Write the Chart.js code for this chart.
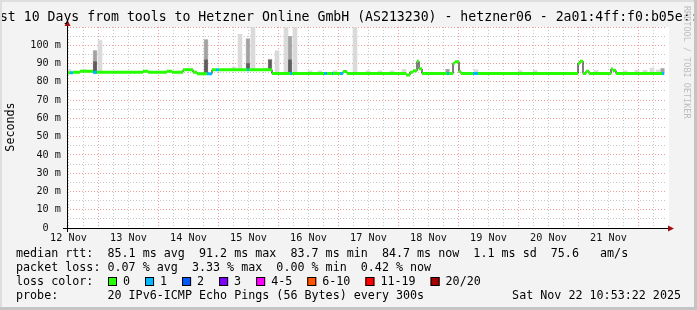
<!DOCTYPE html>
<html>
<head>
<meta charset="utf-8">
<script src="https://cdn.jsdelivr.net/npm/chart.js@4.4.1/dist/chart.umd.min.js"></script>
<style>
  html, body { margin: 0; padding: 0; background: #f3f3f3; }
  canvas { display: block; }
</style>
</head>
<body>
<canvas id="smoke" width="697" height="310"></canvas>
<script>
// time axis: hours counted from 12 Nov 00:00
const xMin = 11.4;
const xMax = 251.4;
const dataEnd = 250.2;

const dayLabels = ['12 Nov', '13 Nov', '14 Nov', '15 Nov', '16 Nov', '17 Nov', '18 Nov', '19 Nov', '20 Nov', '21 Nov'];
const yLabels = ['0  ', '10 m', '20 m', '30 m', '40 m', '50 m', '60 m', '70 m', '80 m', '90 m', '100 m'];

// median rtt (ms) as runs: start hour, value, lost pings out of 20
const runStart = [11.4, 12.6, 13.8, 16.6, 21.8, 23.4, 41.8, 43.8, 51.4, 53.4,
    57.8, 61.8, 63.4, 67.4, 69.4, 71.0, 72.2, 83.4, 84.2, 93.4,
    100.6, 101.4, 114.2, 115.4, 117.4, 117.8, 120.6, 121.8, 123.4, 147.0,
    148.6, 149.8, 151.4, 152.2, 153.4, 163.4, 164.2, 165.8, 166.6, 168.2,
    169.0, 173.8, 175.8, 215.8, 216.6, 217.8, 219.0, 220.2, 229.0, 229.8,
    231.0, 249.4];
const runMedian = [85.0, 85.0, 85.2, 85.8, 85.2, 85.2, 85.8, 85.2, 85.8, 85.2,
    86.6, 85.2, 84.4, 84.4, 86.6, 86.6, 86.6, 86.6, 86.6, 84.5,
    84.5, 84.5, 84.5, 84.5, 84.5, 84.5, 84.5, 85.6, 84.5, 83.7,
    85.3, 86.0, 91.2, 87.1, 84.5, 84.5, 84.5, 90.2, 91.0, 85.6,
    84.5, 84.5, 84.5, 90.2, 91.3, 84.5, 85.8, 84.5, 87.0, 86.2,
    84.5, 84.5];
const runLoss = [0, 1, 0, 0, 1, 0, 0, 0, 0, 0,
    0, 0, 0, 1, 0, 1, 0, 1, 0, 0,
    1, 0, 1, 0, 1, 0, 1, 0, 0, 0,
    0, 0, 0, 0, 0, 1, 0, 0, 0, 0,
    0, 1, 0, 0, 0, 0, 0, 0, 0, 0,
    0, 1];

// smoke (spread of the 20 pings): hour, top of light / mid / dark band in ms
const smokeHours = [12.2, 18.6, 22.6, 24.6, 67.0, 78.2, 80.6, 83.8, 85.8, 90.6,
    92.6, 95.4, 99.0, 100.6, 102.6, 108.6, 112.6, 118.6, 126.6, 131.8,
    136.6, 141.4, 146.2, 163.6, 175.0, 192.6, 198.6, 223.0, 234.6, 239.4,
    242.6, 245.4, 247.8, 249.6];
const smokeOuter = [86.8, 86.6, 97, 102.6, 103, 88, 106, 103.5, 110, 87.5,
    92.5, 97, 110, 104.8, 110, 86, 86, 86, 110, 86,
    86, 86, 86.8, 86.8, 86.6, 86.2, 86.2, 86.2, 86, 86.3,
    86.3, 87.5, 86.5, 87.2];
const smokeInner = [null, null, 97, null, 103, null, null, 103.5, null, null,
    null, null, null, 104.8, null, null, null, null, null, null,
    null, null, null, 86.8, null, null, null, null, null, null,
    null, null, null, 87.2];
const smokeCore = [null, null, 91, null, 92, null, null, 90, null, null,
    92, null, null, 92, null, null, null, null, null, null,
    null, null, null, null, null, null, null, null, null, null,
    null, null, null, null];

const lossLabels = ['0', '1', '2', '3', '4-5', '6-10', '11-19', '20/20'];
const lossColors = ['#26ff00', '#00b8ff', '#0059ff', '#7e00ff', '#ff00ff', '#ff5500', '#ff0000', '#a00000'];

const titleText = 'Last 10 Days from tools to Hetzner Online GmbH (AS213230) - hetzner06 - 2a01:4ff:f0:b05e::2';
const rttLine = 'median rtt:  85.1 ms avg  91.2 ms max  83.7 ms min  84.7 ms now  1.1 ms sd  75.6   am/s';
const lossLine = 'packet loss: 0.07 % avg  3.33 % max  0.00 % min  0.42 % now';
const probeLine = 'probe:       20 IPv6-ICMP Echo Pings (56 Bytes) every 300s';
const stampText = 'Sat Nov 22 10:53:22 2025';

const mono = '"DejaVu Sans Mono", monospace';

function medianAt(h) {
    let v = runMedian[0];
    for (let i = 0; i < runStart.length; i++) {
        if (runStart[i] <= h) v = runMedian[i];
    }
    return v;
}

// black step line through all medians
const stepData = runStart.map((h, i) => ({ x: h, y: runMedian[i] }));
stepData.push({ x: dataEnd, y: runMedian[runMedian.length - 1] });

// thick coloured pieces, one per run, split by loss
function pieces(loss) {
    const out = [];
    runStart.forEach((h, i) => {
        if (runLoss[i] !== loss) return;
        const end = i + 1 < runStart.length ? runStart[i + 1] : dataEnd;
        out.push({ x: h, y: runMedian[i] }, { x: end, y: runMedian[i] }, { x: end, y: null });
    });
    return out;
}

function band(tops) {
    const out = [];
    smokeHours.forEach((h, i) => {
        if (tops[i] == null) return;
        out.push({ x: h, y: [medianAt(h) - 0.3, tops[i]] });
    });
    return out;
}

const rrdLook = {
    id: 'rrdLook',
    beforeDraw(chart) {
        const { ctx, chartArea: a } = chart;
        ctx.save();
        ctx.fillStyle = '#f3f3f3';
        ctx.fillRect(0, 0, chart.width, chart.height);
        ctx.fillStyle = '#ffffff';
        ctx.fillRect(a.left, a.top, a.right - a.left + 2, a.bottom - a.top);
        ctx.restore();
    },
    afterDraw(chart) {
        const { ctx, chartArea: a } = chart;
        ctx.save();

        // axes with arrows
        ctx.strokeStyle = '#000';
        ctx.lineWidth = 1;
        ctx.beginPath();
        ctx.moveTo(a.left - 4, a.bottom + 0.5);
        ctx.lineTo(a.right + 2, a.bottom + 0.5);
        ctx.moveTo(a.left + 0.5, a.bottom + 4);
        ctx.lineTo(a.left + 0.5, a.top - 1);
        ctx.stroke();
        ctx.fillStyle = '#a01010';
        ctx.beginPath();
        ctx.moveTo(a.right + 7, a.bottom + 0.5);
        ctx.lineTo(a.right + 1, a.bottom - 2.5);
        ctx.lineTo(a.right + 1, a.bottom + 3.5);
        ctx.closePath();
        ctx.fill();
        ctx.beginPath();
        ctx.moveTo(a.left + 0.5, a.top - 7);
        ctx.lineTo(a.left - 2.5, a.top - 1);
        ctx.lineTo(a.left + 3.5, a.top - 1);
        ctx.closePath();
        ctx.fill();

        // title
        ctx.fillStyle = '#000';
        ctx.font = '13.2px ' + mono;
        ctx.textBaseline = 'middle';
        ctx.textAlign = 'left';
        ctx.fillText(titleText, -16, 18);

        // vertical axis title
        ctx.save();
        ctx.translate(11, 127);
        ctx.rotate(-Math.PI / 2);
        ctx.textAlign = 'center';
        ctx.font = '11.7px ' + mono;
        ctx.fillText('Seconds', 0, 0);
        ctx.restore();

        // watermark
        ctx.save();
        ctx.translate(686, 6);
        ctx.rotate(Math.PI / 2);
        ctx.fillStyle = '#bdbdbd';
        ctx.font = '8.5px ' + mono;
        ctx.textAlign = 'left';
        ctx.fillText('RRDTOOL / TOBI OETIKER', 0, 0);
        ctx.restore();

        // legend block
        ctx.font = '11.7px ' + mono;
        ctx.fillStyle = '#000';
        ctx.textAlign = 'left';
        ctx.fillText(rttLine, 16, 254);
        ctx.fillText(lossLine, 16, 268);
        ctx.fillText('loss color:', 16, 282);
        ctx.fillText(probeLine, 16, 296);
        let bx = 108;
        lossLabels.forEach((lab, i) => {
            ctx.fillStyle = lossColors[i];
            ctx.fillRect(bx, 277, 9, 9);
            ctx.strokeStyle = '#000';
            ctx.strokeRect(bx + 0.5, 277.5, 8, 8);
            ctx.fillStyle = '#000';
            ctx.fillText(lab, bx + 15, 282);
            bx += 30 + ctx.measureText(lab).width;
        });
        ctx.textAlign = 'right';
        ctx.fillText(stampText, 681, 296);

        // frame
        ctx.fillStyle = '#dedede';
        ctx.fillRect(0, 0, chart.width, 2);
        ctx.fillRect(0, 0, 2, chart.height);
        ctx.fillStyle = '#c4c4c4';
        ctx.fillRect(0, chart.height - 3, chart.width, 3);
        ctx.fillRect(chart.width - 3, 0, 3, chart.height);
        ctx.restore();
    }
};

new Chart(document.getElementById('smoke'), {
    type: 'bar',
    data: {
        datasets: [
            { type: 'line', data: pieces(1), borderColor: '#00b8ff', borderWidth: 3, pointRadius: 0, spanGaps: false, order: 0 },
            { type: 'line', data: pieces(0), borderColor: '#26ff00', borderWidth: 3, pointRadius: 0, spanGaps: false, order: 1 },
            { type: 'line', data: stepData, borderColor: '#000000', borderWidth: 1, pointRadius: 0, stepped: true, order: 2 },
            { data: band(smokeCore), backgroundColor: '#5e5e5e', barThickness: 3, grouped: false, order: 3 },
            { data: band(smokeInner), backgroundColor: '#a2a2a2', barThickness: 3, grouped: false, order: 4 },
            { data: band(smokeOuter), backgroundColor: '#dadada', barThickness: 4, grouped: false, order: 5 }
        ]
    },
    options: {
        responsive: false,
        animation: false,
        devicePixelRatio: 1,
        layout: { padding: { left: 0, right: 30, top: 27, bottom: 0 }, autoPadding: false },
        plugins: { legend: { display: false }, tooltip: { enabled: false } },
        scales: {
            x: {
                type: 'linear',
                min: xMin,
                max: xMax,
                offset: false,
                afterBuildTicks: s => {
                    const t = [];
                    for (let h = 12; h < xMax; h += 6) t.push({ value: h });
                    s.ticks = t;
                },
                afterFit: s => { s.height = 82; },
                grid: {
                    offset: false,
                    drawTicks: false,
                    color: c => (c.tick && c.tick.value % 24 === 0 ? 'rgba(235,90,90,0.6)' : 'rgba(160,160,160,0.6)'),
                    lineWidth: 1
                },
                border: { display: false, dash: [1, 2] },
                ticks: {
                    autoSkip: false,
                    maxRotation: 0,
                    padding: 4,
                    color: '#111',
                    font: { family: mono, size: 10.2 },
                    callback: v => (v % 24 === 12 ? dayLabels[(v - 12) / 24] : '')
                }
            },
            y: {
                type: 'linear',
                min: 0,
                max: 110,
                afterBuildTicks: s => {
                    const t = [];
                    for (let v = 0; v <= 110; v += 5) t.push({ value: v });
                    s.ticks = t;
                },
                afterFit: s => { s.width = 67; },
                grid: {
                    drawTicks: false,
                    color: c => (c.tick && c.tick.value % 10 === 0 ? 'rgba(235,90,90,0.6)' : 'rgba(160,160,160,0.6)'),
                    lineWidth: 1
                },
                border: { display: false, dash: [1, 2] },
                ticks: {
                    autoSkip: false,
                    padding: 6,
                    color: '#111',
                    font: { family: mono, size: 10.2 },
                    callback: v => (v % 10 === 0 && yLabels[v / 10] ? yLabels[v / 10] : '')
                }
            }
        }
    },
    plugins: [rrdLook]
});
</script>
</body>
</html>
